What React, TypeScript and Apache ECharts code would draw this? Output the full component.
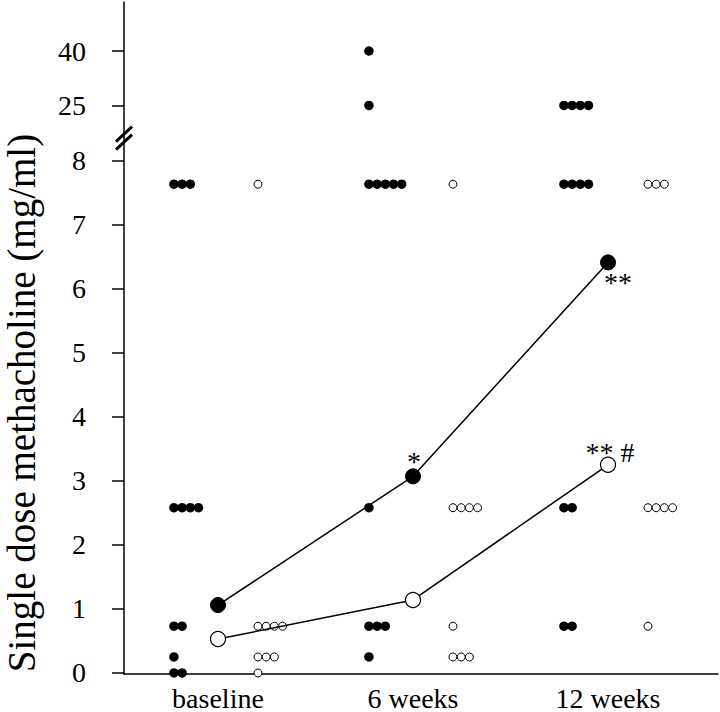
import React, { useEffect, useRef } from "react";
import * as echarts from "echarts";

// ---------- data ----------
const categories = ["baseline", "6 weeks", "12 weeks"];
const yTicksLow = [0, 1, 2, 3, 4, 5, 6, 7, 8];
const yTicksHigh = [25, 40];
// positions of the broken-axis values on the linear (0-8) scale
const yHighPos = [8.86, 9.71];

const baselineFilled = [7.63, 7.63, 7.63, 2.58, 2.58, 2.58, 2.58, 0.73, 0.73, 0.25, 0, 0];
const baselineOpen = [7.63, 0.73, 0.73, 0.73, 0.73, 0.25, 0.25, 0.25, 0];
const week6Filled = [40, 25, 7.63, 7.63, 7.63, 7.63, 7.63, 2.58, 0.73, 0.73, 0.73, 0.25];
const week6Open = [7.63, 2.58, 2.58, 2.58, 2.58, 0.73, 0.25, 0.25, 0.25];
const week12Filled = [25, 25, 25, 25, 7.63, 7.63, 7.63, 7.63, 2.58, 2.58, 0.73, 0.73];
const week12Open = [7.63, 7.63, 7.63, 2.58, 2.58, 2.58, 2.58, 0.73];

const meanFilled = [1.06, 3.07, 6.41];
const meanOpen = [0.53, 1.14, 3.25];
const sigFilled = ["", "*", "**"];
const sigOpen = ["", "", "** #"];

// ---------- helpers ----------
const FONT = "'Liberation Serif', 'Times New Roman', serif";
const X_MIN = -0.482;
const X_MAX = 2.564;
const Y_MIN = -0.016;
const Y_MAX = 10.475;
const OFF_FILLED = -0.226;
const OFF_OPEN = 0.205;
const STEP = 0.042;

function toDisplay(v: number): number {
  if (v <= 8) return v;
  const xs = [8, ...yTicksHigh];
  const ys = [8, ...yHighPos];
  for (let i = 1; i < xs.length; i++) {
    if (v <= xs[i]) {
      const t = (v - xs[i - 1]) / (xs[i] - xs[i - 1]);
      return ys[i - 1] + t * (ys[i] - ys[i - 1]);
    }
  }
  return ys[ys.length - 1];
}

function dotPoints(groups: number[][], offset: number): number[][] {
  const pts: number[][] = [];
  groups.forEach((arr, ci) => {
    const seen: Record<string, number> = {};
    arr.forEach((v) => {
      const k = seen[v] || 0;
      seen[v] = k + 1;
      pts.push([ci + offset + k * STEP, toDisplay(v)]);
    });
  });
  return pts;
}

const tickPositions = [...yTicksLow, ...yHighPos];
function tickLabel(v: number): string {
  for (let i = 0; i < yHighPos.length; i++) {
    if (Math.abs(v - yHighPos[i]) < 0.01) return String(yTicksHigh[i]);
  }
  return String(Math.round(v));
}

const labelFilled = [
  null,
  { position: "inside", offset: [1, -1] },
  { position: "inside", offset: [10, 34] },
];
const labelOpen = [null, null, { position: "inside", offset: [2, 2] }];

function meanData(means: number[], sig: string[], cfg: any[]) {
  return means.map((m, i) => {
    const c = cfg[i];
    return {
      value: [i, m],
      label: c
        ? {
            show: true,
            formatter: sig[i],
            position: c.position,
            offset: c.offset,
            align: "center",
            verticalAlign: "bottom",
            fontFamily: FONT,
            fontSize: 28,
            color: "#000",
          }
        : { show: false },
    };
  });
}

export default function App() {
  const ref = useRef<HTMLDivElement>(null);
  useEffect(() => {
    if (!ref.current) return;
    const chart = echarts.init(ref.current, null, { renderer: "svg" });
    const option: any = {
      animation: false,
      backgroundColor: "#fff",
      grid: { left: 124, right: 2, top: 2, bottom: 36, containLabel: false },
      xAxis: {
        type: "value",
        min: X_MIN,
        max: X_MAX,
        splitLine: { show: false },
        axisLine: { show: true, onZero: false, lineStyle: { color: "#000", width: 1.5 } },
        axisTick: { show: false },
        axisLabel: {
          customValues: [0, 1, 2],
          formatter: (v: number) => categories[Math.round(v)] ?? "",
          fontFamily: FONT,
          fontSize: 28,
          color: "#000",
          margin: 10,
        },
      },
      yAxis: {
        type: "value",
        min: Y_MIN,
        max: Y_MAX,
        splitLine: { show: false },
        axisLine: { show: true, onZero: false, lineStyle: { color: "#000", width: 1.5 } },
        axisTick: {
          show: true,
          customValues: tickPositions,
          length: 12,
          lineStyle: { color: "#000", width: 1.5 },
        },
        axisLabel: {
          customValues: tickPositions,
          formatter: (v: number) => tickLabel(v),
          fontFamily: FONT,
          fontSize: 28,
          color: "#000",
          margin: 38,
        },
      },
      series: [
        {
          type: "scatter",
          data: dotPoints([baselineFilled, week6Filled, week12Filled], OFF_FILLED),
          symbol: "circle",
          symbolSize: 9.5,
          itemStyle: { color: "#000", opacity: 1 },
          z: 2,
        },
        {
          type: "scatter",
          data: dotPoints([baselineOpen, week6Open, week12Open], OFF_OPEN),
          symbol: "circle",
          symbolSize: 8,
          itemStyle: { color: "#fff", borderColor: "#000", borderWidth: 1, opacity: 1 },
          z: 2,
        },
        {
          type: "line",
          data: meanData(meanFilled, sigFilled, labelFilled),
          symbol: "circle",
          symbolSize: 15,
          showSymbol: true,
          itemStyle: { color: "#000", borderColor: "#000", borderWidth: 1 },
          lineStyle: { color: "#000", width: 1.5 },
          z: 3,
        },
        {
          type: "line",
          data: meanData(meanOpen, sigOpen, labelOpen),
          symbol: "circle",
          symbolSize: 15,
          showSymbol: true,
          itemStyle: { color: "#fff", borderColor: "#000", borderWidth: 1.2 },
          lineStyle: { color: "#000", width: 1.5 },
          z: 3,
        },
      ],
    };
    chart.setOption(option);

    const c = chart.convertToPixel({ gridIndex: 0 }, [X_MIN, 8.35]) as number[];
    const cx = c[0];
    const cy = c[1];
    const title = "Single dose methacholine (mg/ml)";
    chart.setOption({
      graphic: [
        {
          type: "line",
          shape: { x1: cx - 8, y1: cy + 3.5, x2: cx + 8, y2: cy - 11.5 },
          style: { stroke: "#000", lineWidth: 3 },
          z: 10,
        },
        {
          type: "line",
          shape: { x1: cx - 8, y1: cy + 11.5, x2: cx + 8, y2: cy - 3.5 },
          style: { stroke: "#000", lineWidth: 3 },
          z: 10,
        },
        {
          type: "text",
          x: 21,
          y: 403,
          rotation: Math.PI / 2,
          style: {
            text: title,
            fontFamily: FONT,
            fontSize: 39,
            lineHeight: 34,
            fill: "#000",
            align: "center",
            verticalAlign: "middle",
          },
          z: 10,
        },
      ],
    });
    return () => chart.dispose();
  }, []);
  return (
    <div
      ref={ref}
      style={{ position: "fixed", left: 0, top: 0, width: 720, height: 712 }}
    />
  );
}
